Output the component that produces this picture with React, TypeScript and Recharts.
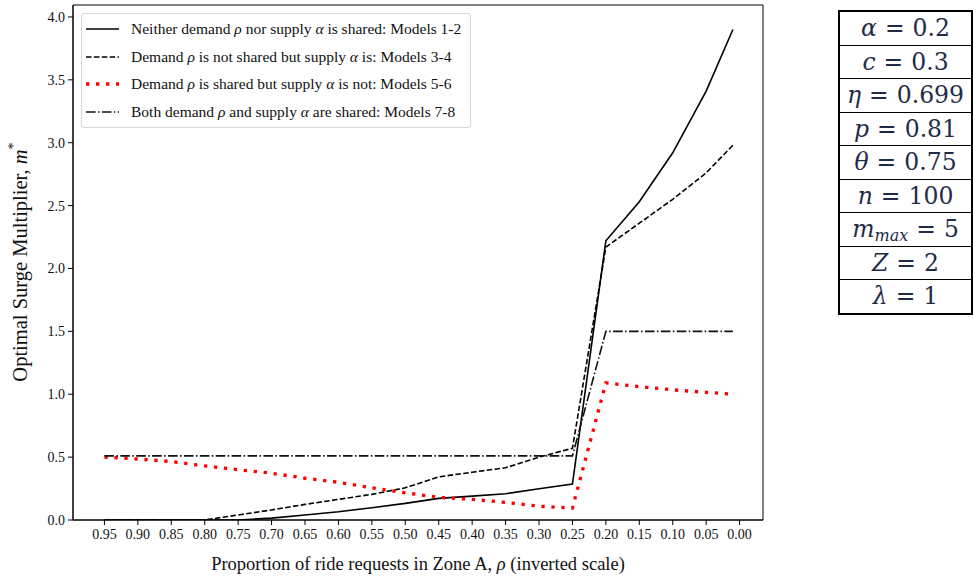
import React from 'react';
import { LineChart, Line, XAxis, YAxis, ReferenceArea, Legend, Label } from 'recharts';

// Proportion of ride requests in Zone A (plotted on an inverted axis)
const rho = [0.95, 0.9, 0.85, 0.8, 0.75, 0.7, 0.65, 0.6, 0.55, 0.5, 0.45, 0.4, 0.35, 0.3, 0.25, 0.2, 0.15, 0.1, 0.05, 0.01];

// Optimal surge multiplier m* for each sharing scenario
const neitherShared = [0, 0, 0, 0, 0, 0.015, 0.04, 0.066, 0.098, 0.132, 0.172, 0.19, 0.209, 0.248, 0.285, 2.22, 2.53, 2.92, 3.41, 3.9];
const supplyOnlyShared = [0, 0, 0, 0, 0.04, 0.08, 0.124, 0.164, 0.204, 0.256, 0.343, 0.38, 0.415, 0.5, 0.57, 2.17, 2.36, 2.55, 2.76, 2.98];
const demandOnlyShared = [0.5, 0.485, 0.465, 0.43, 0.4, 0.372, 0.332, 0.3, 0.256, 0.216, 0.18, 0.164, 0.14, 0.11, 0.095, 1.09, 1.06, 1.035, 1.015, 1.0];
const bothShared = [0.51, 0.51, 0.51, 0.51, 0.51, 0.51, 0.51, 0.51, 0.51, 0.51, 0.51, 0.51, 0.51, 0.51, 0.51, 1.5, 1.5, 1.5, 1.5, 1.5];

const xTicks = [0.95, 0.9, 0.85, 0.8, 0.75, 0.7, 0.65, 0.6, 0.55, 0.5, 0.45, 0.4, 0.35, 0.3, 0.25, 0.2, 0.15, 0.1, 0.05, 0.0];
const yTicks = [0, 0.5, 1, 1.5, 2, 2.5, 3, 3.5, 4];

// Model parameters listed beside the plot
const paramSymbols = ['α', 'c', 'η', 'p', 'θ', 'n', 'm', 'Z', 'λ'];
const paramSubscripts = ['', '', '', '', '', '', 'max', '', ''];
const paramValues = ['0.2', '0.3', '0.699', '0.81', '0.75', '100', '5', '2', '1'];

const data = rho.map((r, i) => ({
  rho: r,
  neither: neitherShared[i],
  supply: supplyOnlyShared[i],
  demand: demandOnlyShared[i],
  both: bothShared[i],
}));

const SERIF = '"Liberation Serif", "Times New Roman", serif';

const series = [
  { key: 'neither', stroke: '#000', width: 1.6, dash: undefined as string | undefined, pre: 'Neither demand ', mid: ' nor supply ', post: ' is shared: Models 1-2' },
  { key: 'supply', stroke: '#000', width: 1.6, dash: '5.5 2.4', pre: 'Demand ', mid: ' is not shared but supply ', post: ' is: Models 3-4' },
  { key: 'demand', stroke: '#ff0000', width: 3.3, dash: '3.3 6.7', pre: 'Demand ', mid: ' is shared but supply ', post: ' is not: Models 5-6' },
  { key: 'both', stroke: '#111', width: 1.6, dash: '9.6 2.4 1.5 2.4', pre: 'Both demand ', mid: ' and supply ', post: ' are shared: Models 7-8' },
];

const LegendBox = () => (
  <div
    style={{
      width: 390,
      height: 115,
      border: '1px solid #d6d6d6',
      borderRadius: 3,
      background: 'rgba(255,255,255,0.85)',
      boxSizing: 'border-box',
      paddingTop: 1,
      fontFamily: SERIF,
      fontSize: 15.5,
      color: '#111',
    }}
  >
    {series.map((s) => (
      <div key={s.key} style={{ height: 27.8, display: 'flex', alignItems: 'center', whiteSpace: 'nowrap' }}>
        <svg width={46} height={10} style={{ marginLeft: 3, flex: 'none' }}>
          <line x1={1} y1={5} x2={34} y2={5} stroke={s.stroke} strokeWidth={s.width} strokeDasharray={s.dash} />
        </svg>
        <span>
          {s.pre}
          <i>ρ</i>
          {s.mid}
          <i>α</i>
          {s.post}
        </span>
      </div>
    ))}
  </div>
);

const ParamTable = () => (
  <div
    style={{
      position: 'absolute',
      left: 838,
      top: 10,
      width: 135,
      border: '2px solid #000',
      borderBottomWidth: 1,
      boxSizing: 'border-box',
      fontFamily: '"DejaVu Serif", serif',
      color: '#1f2b47',
    }}
  >
    {paramSymbols.map((sym, i) => (
      <div
        key={sym + i}
        style={{
          height: 33.5,
          borderBottom: '1.5px solid #000',
          boxSizing: 'border-box',
          display: 'flex',
          alignItems: 'center',
          justifyContent: 'center',
          fontSize: 23.5,
          whiteSpace: 'nowrap',
        }}
      >
        <span style={{ fontStyle: 'italic' }}>{sym}</span>
        {paramSubscripts[i] ? (
          <span style={{ fontStyle: 'italic', fontSize: 16, position: 'relative', top: 6 }}>{paramSubscripts[i]}</span>
        ) : null}
        <span style={{ margin: '0 8px' }}>=</span>
        <span>{paramValues[i]}</span>
      </div>
    ))}
  </div>
);

export default function App() {
  return (
    <div style={{ position: 'absolute', left: 0, top: 0, width: 973, height: 576, background: '#fff' }}>
      <LineChart width={973} height={576} data={data} margin={{ top: 5, right: 210, bottom: 0, left: 0 }}>
        <XAxis
          dataKey="rho"
          type="number"
          domain={[-0.035, 0.997]}
          reversed
          ticks={xTicks}
          interval={0}
          allowDataOverflow
          tickFormatter={(v: number) => v.toFixed(2)}
          height={56}
          tickSize={5}
          tickMargin={4}
          axisLine={{ stroke: '#000', strokeWidth: 1 }}
          tickLine={{ stroke: '#000', strokeWidth: 1 }}
          tick={{ fill: '#111', fontSize: 14, fontFamily: SERIF }}
        >
          <Label
            content={() => (
              <text x={418} y={570} textAnchor="middle" fontFamily={SERIF} fontSize={18.5} fill="#111">
                Proportion of ride requests in Zone A, <tspan fontStyle="italic">ρ</tspan> (inverted scale)
              </text>
            )}
          />
        </XAxis>
        <YAxis
          type="number"
          domain={[0, 4.095]}
          ticks={yTicks}
          interval={0}
          allowDataOverflow
          tickFormatter={(v: number) => v.toFixed(1)}
          width={73}
          tickSize={5}
          tickMargin={3}
          axisLine={{ stroke: '#000', strokeWidth: 1 }}
          tickLine={{ stroke: '#000', strokeWidth: 1 }}
          tick={{ fill: '#111', fontSize: 14, fontFamily: SERIF }}
        >
          <Label
            content={() => (
              <text
                x={27}
                y={262}
                transform="rotate(-90 27 262)"
                textAnchor="middle"
                fontFamily={SERIF}
                fontSize={20.5}
                fill="#111"
              >
                Optimal Surge Multiplier, <tspan fontStyle="italic">m</tspan>
                <tspan dy={-9} fontSize={14}>*</tspan>
              </text>
            )}
          />
        </YAxis>
        <ReferenceArea x1={-0.035} x2={0.997} y1={0} y2={4.095} fill="none" stroke="#000" strokeWidth={1} />
        {series.map((s) => (
          <Line
            key={s.key}
            dataKey={s.key}
            type="linear"
            stroke={s.stroke}
            strokeWidth={s.width}
            strokeDasharray={s.dash}
            strokeLinecap="butt"
            dot={false}
            activeDot={false}
            isAnimationActive={false}
          />
        ))}
        <Legend
          layout="vertical"
          align="center"
          verticalAlign="middle"
          wrapperStyle={{ left: 81, top: 13, width: 390, height: 115 }}
          content={() => <LegendBox />}
        />
      </LineChart>
      <ParamTable />
    </div>
  );
}
